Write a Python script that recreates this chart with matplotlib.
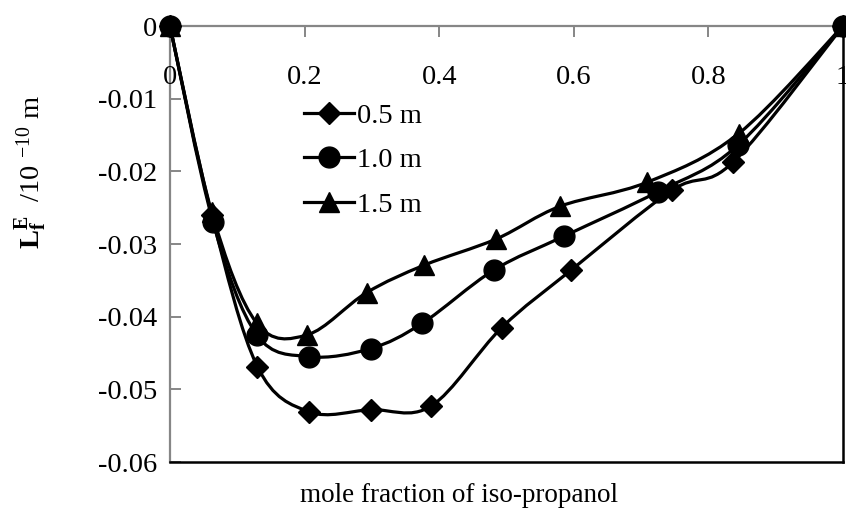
import numpy as np
import matplotlib
matplotlib.use("Agg")
import matplotlib.pyplot as plt
from matplotlib.path import Path
from matplotlib.patches import PathPatch
from matplotlib.lines import Line2D

# ── data ─────────────────────────────────────────────────────────────────────
x_05 = [0, 0.062, 0.130, 0.207, 0.298, 0.388, 0.493, 0.596, 0.746, 0.837, 1.0]
y_05 = [0, -0.0260, -0.0469, -0.0531, -0.0528, -0.0523, -0.0415, -0.0336, -0.0226, -0.0187, 0]

x_10 = [0, 0.064, 0.129, 0.207, 0.298, 0.375, 0.481, 0.586, 0.725, 0.844, 1.0]
y_10 = [0, -0.0270, -0.0425, -0.0455, -0.0444, -0.0409, -0.0336, -0.0289, -0.0228, -0.0164, 0]

x_15 = [0, 0.062, 0.129, 0.204, 0.292, 0.378, 0.485, 0.580, 0.709, 0.845, 1.0]
y_15 = [0, -0.0256, -0.0409, -0.0425, -0.0367, -0.0329, -0.0293, -0.0248, -0.0215, -0.0148, 0]

labels = ["0.5 m", "1.0 m", "1.5 m"]
markers = ["D", "o", "^"]
msizes = [11, 15, 14]

x_ticks = [0, 0.2, 0.4, 0.6, 0.8, 1]
x_ticklabels = ["0", "0.2", "0.4", "0.6", "0.8", "1"]
y_ticks = [0, -0.01, -0.02, -0.03, -0.04, -0.05, -0.06]
y_ticklabels = ["0", "-0.01", "-0.02", "-0.03", "-0.04", "-0.05", "-0.06"]

plt.rcParams["font.family"] = ["Liberation Serif", "DejaVu Serif"]
plt.rcParams["mathtext.fontset"] = "custom"
plt.rcParams["mathtext.rm"] = "Liberation Serif"
plt.rcParams["mathtext.bf"] = "Liberation Serif:bold"
plt.rcParams["mathtext.it"] = "Liberation Serif:italic"
FS = 20.5
GRAY = "#868686"


def smooth_path(ax, xs, ys):
    """Excel-style smoothed line: cubic Bezier through the points, built in pixel space."""
    pts = ax.transData.transform(np.column_stack([xs, ys]))
    n = len(pts)
    verts = [pts[0]]
    codes = [Path.MOVETO]
    for i in range(n - 1):
        p0 = pts[i - 1] if i > 0 else pts[i]
        p1 = pts[i]
        p2 = pts[i + 1]
        p3 = pts[i + 2] if i + 2 < n else pts[i + 1]
        c1 = p1 + (p2 - p0) / 6.0
        c2 = p2 - (p3 - p1) / 6.0
        verts += [c1, c2, p2]
        codes += [Path.CURVE4] * 3
    verts = ax.transData.inverted().transform(np.array(verts))
    return Path(verts, codes)


fig = plt.figure(figsize=(8.46, 5.13), dpi=100)
ax = fig.add_axes([170 / 846, 1 - 462 / 513, 673 / 846, 436 / 513])
ax.set_xlim(0, 1)
ax.set_ylim(-0.06, 0)

series = [(x_05, y_05), (x_10, y_10), (x_15, y_15)]
for (xs, ys), mk, ms in zip(series, markers, msizes):
    ax.add_patch(PathPatch(smooth_path(ax, xs, ys), fill=False, edgecolor="black",
                           lw=2.3, clip_on=False, zorder=3))
    ax.plot(xs, ys, linestyle="none", marker=mk, markersize=ms, color="black",
            clip_on=False, zorder=4)

# spines: gray axes at x=0 / y=0, black plot-area border right & bottom
ax.spines["left"].set_color(GRAY)
ax.spines["top"].set_color(GRAY)
ax.spines["left"].set_linewidth(1.6)
ax.spines["top"].set_linewidth(1.6)
ax.spines["right"].set_color("black")
ax.spines["bottom"].set_color("black")
ax.spines["right"].set_linewidth(1.8)
ax.spines["bottom"].set_linewidth(1.8)

ax.xaxis.set_ticks_position("top")
ax.set_xticks(x_ticks)
ax.tick_params(axis="x", direction="in", length=8, width=1.4, color=GRAY,
               labeltop=False, labelbottom=False)
for xt, lab in zip(x_ticks, x_ticklabels):
    ax.annotate(lab, (xt, 0), xytext=(0, -28), textcoords="offset points",
                ha="center", va="top", fontsize=FS, annotation_clip=False)

ax.set_yticks(y_ticks)
ax.set_yticklabels(y_ticklabels, fontsize=FS)
ax.tick_params(axis="y", direction="in", length=8, width=1.4, color=GRAY, pad=9)

ax.set_ylabel(r"$\mathbf{L_f^E}$  /10 $^{\mathregular{-10}}$ m", fontsize=FS)
ax.yaxis.set_label_coords(-0.178, 0.665)
fig.text(459 / 846, 1 - 495 / 513, "mole fraction of iso-propanol", fontsize=19.5,
         ha="center", va="center")

handles = [Line2D([], [], color="black", lw=2.3, marker=mk, markersize=ms)
           for mk, ms in zip(markers, msizes)]
ax.legend(handles, labels, loc="upper left", bbox_to_anchor=(0.182, 0.85),
          frameon=False, fontsize=FS, handlelength=1.75, handletextpad=0.1,
          labelspacing=0.65, borderaxespad=0)

plt.savefig("out.png", dpi=100)
